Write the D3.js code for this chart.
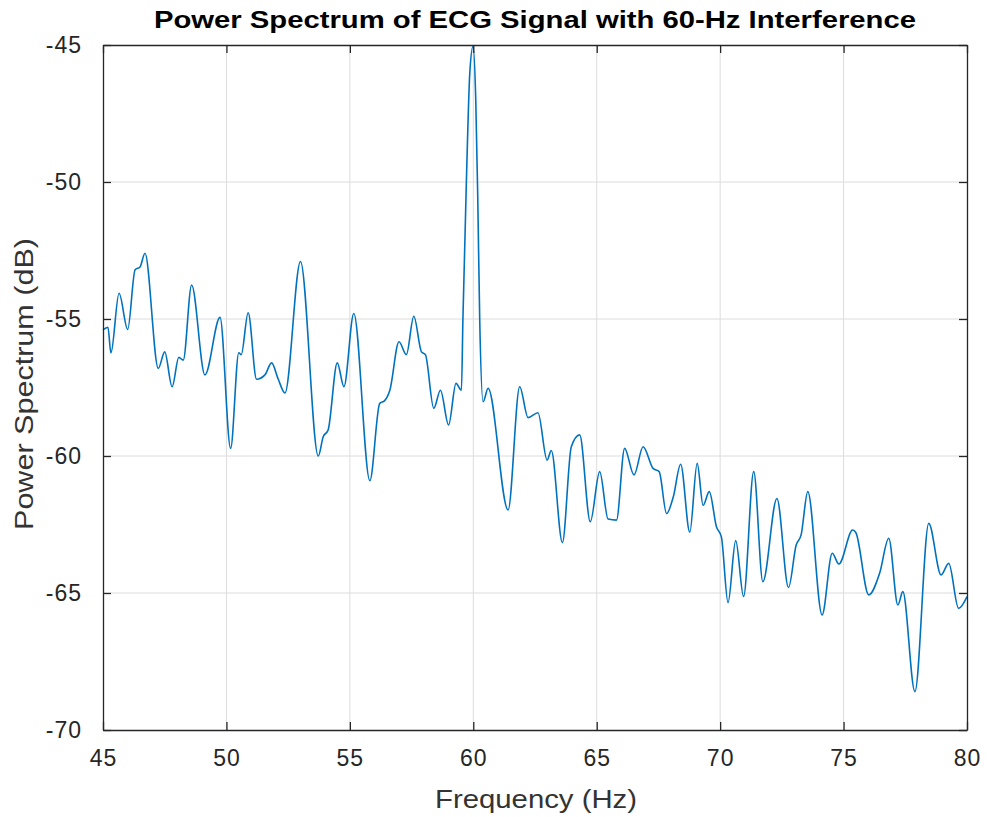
<!DOCTYPE html>
<html>
<head>
<meta charset="utf-8">
<script src="https://cdn.jsdelivr.net/npm/d3@7"></script>
<style>
  body { margin: 0; background: #fff; }
  text { font-family: "Liberation Sans", Arial, sans-serif; fill: #262626; }
</style>
</head>
<body>
<div id="chart"></div>
<script>
// Power spectrum around the 60 Hz mains line

const freq = [
  45.0, 45.2, 45.32, 45.65, 46.0, 46.3, 46.5, 46.7, 47.24, 47.5, 47.8, 48.07, 48.25, 48.59,
  49.13, 49.74, 50.17, 50.5, 50.6, 50.88, 51.22, 51.56, 51.83, 52.1, 52.37, 53.0, 53.72,
  53.92, 54.12, 54.49, 54.76, 55.16, 55.81, 56.21, 56.41, 56.62, 56.99, 57.29, 57.59, 57.9,
  58.06, 58.4, 58.67, 59.0, 59.3, 59.52, 59.58, 59.72, 59.86, 59.99, 60.1, 60.18, 60.26,
  60.4, 60.6, 61.41, 61.88, 62.22, 62.62, 62.99, 63.16, 63.61, 63.97, 64.31, 64.74, 65.12,
  65.46, 65.8, 66.13, 66.51, 66.88, 67.28, 67.53, 67.83, 68.1, 68.4, 68.77, 69.07, 69.31,
  69.56, 69.85, 70.05, 70.32, 70.63, 70.95, 71.36, 71.73, 72.3, 72.77, 73.08, 73.28, 73.55,
  74.13, 74.54, 74.81, 75.37, 75.5, 76.02, 76.46, 76.83, 77.2, 77.4, 77.89, 78.45, 78.95,
  79.26, 79.66, 80.0
];

const power = [
  -55.4, -55.3, -56.24, -54.06, -55.38, -53.2, -53.1, -52.6, -56.8, -56.2, -57.47, -56.4, -56.5, -53.76,
  -57.04, -54.94, -59.72, -56.23, -56.3, -54.77, -57.2, -57.04, -56.6, -57.2, -57.7, -52.9, -60.0,
  -59.3, -59.05, -56.6, -57.47, -54.8, -60.9, -58.08, -57.98, -57.6, -55.83, -56.3, -54.9, -56.2,
  -56.3, -58.26, -57.6, -58.87, -57.35, -57.6, -55.0, -50.0, -46.0, -45.05, -47.0, -50.5, -55.0,
  -58.02, -57.53, -61.97, -57.47, -58.6, -58.42, -60.15, -59.8, -63.16, -59.66, -59.23, -62.4, -60.57,
  -62.3, -62.34, -59.72, -60.69, -59.66, -60.45, -60.57, -62.1, -61.5, -60.3, -62.78, -60.27, -61.8,
  -61.3, -62.58, -62.95, -65.35, -63.09, -65.13, -60.57, -64.59, -61.55, -64.8, -63.25, -62.88, -61.3,
  -65.8, -63.55, -63.94, -62.7, -62.8, -65.07, -64.28, -63.0, -65.44, -64.95, -68.6, -62.46, -64.34,
  -63.92, -65.56, -65.13
];

const xTicks = [45, 50, 55, 60, 65, 70, 75, 80];
const yTicks = [-70, -65, -60, -55, -50, -45];

const width = 987, height = 817;
const margin = { top: 45, right: 20, bottom: 87, left: 103 };
const w = width - margin.left - margin.right;
const h = height - margin.top - margin.bottom;

const svg = d3.select("#chart").append("svg")
  .attr("width", width)
  .attr("height", height);

const plot = svg.append("g")
  .attr("transform", `translate(${margin.left},${margin.top})`);

const x = d3.scaleLinear().domain([45, 80]).range([0, w]);
const y = d3.scaleLinear().domain([-70, -45]).range([h, 0]);

// grid
plot.append("g").selectAll("line")
  .data(xTicks.slice(1, -1))
  .join("line")
  .attr("x1", d => x(d)).attr("x2", d => x(d))
  .attr("y1", 0).attr("y2", h)
  .attr("stroke", "#dcdcdc").attr("stroke-width", 1);

plot.append("g").selectAll("line")
  .data(yTicks.slice(1, -1))
  .join("line")
  .attr("x1", 0).attr("x2", w)
  .attr("y1", d => y(d)).attr("y2", d => y(d))
  .attr("stroke", "#dcdcdc").attr("stroke-width", 1);

// the spectrum
const line = d3.line()
  .x((d, i) => x(freq[i]))
  .y(d => y(d))
  .curve(d3.curveMonotoneX);

plot.append("path")
  .datum(power)
  .attr("fill", "none")
  .attr("stroke", "#0072bd")
  .attr("stroke-width", 1.6)
  .attr("stroke-linejoin", "round")
  .attr("d", line);

// axes, ticks inside on all four sides
const fmt = d => String(d); // plain hyphen minus like the original
const styleAxis = g => {
  g.select(".domain").attr("stroke", "#262626").attr("stroke-width", 1.3).attr("fill", "none");
  g.selectAll(".tick line").attr("stroke", "#262626").attr("stroke-width", 1.3);
  g.selectAll(".tick text")
    .style("font-size", "23px")
    .style("letter-spacing", "1px")
    .attr("fill", "#333");
};

plot.append("g")
  .attr("transform", `translate(0,${h})`)
  .call(d3.axisBottom(x).tickValues(xTicks).tickFormat(fmt).tickSizeInner(-8).tickSizeOuter(0).tickPadding(20))
  .call(styleAxis);

plot.append("g")
  .call(d3.axisTop(x).tickValues(xTicks).tickFormat("").tickSizeInner(-8).tickSizeOuter(0))
  .call(styleAxis);

plot.append("g")
  .call(d3.axisLeft(y).tickValues(yTicks).tickFormat(fmt).tickSizeInner(-8).tickSizeOuter(0).tickPadding(21))
  .call(styleAxis);

plot.append("g")
  .attr("transform", `translate(${w},0)`)
  .call(d3.axisRight(y).tickValues(yTicks).tickFormat("").tickSizeInner(-8).tickSizeOuter(0))
  .call(styleAxis);

// labels
svg.append("text")
  .attr("x", 535)
  .attr("y", 28)
  .attr("text-anchor", "middle")
  .attr("textLength", 762)
  .attr("lengthAdjust", "spacingAndGlyphs")
  .style("font-size", "24px")
  .style("font-weight", "bold")
  .style("fill", "#000")
  .text("Power Spectrum of ECG Signal with 60-Hz Interference");

svg.append("text")
  .attr("x", 536)
  .attr("y", 808)
  .attr("text-anchor", "middle")
  .attr("textLength", 202)
  .attr("lengthAdjust", "spacingAndGlyphs")
  .style("font-size", "25px")
  .style("fill", "#333")
  .text("Frequency (Hz)");

svg.append("text")
  .attr("transform", `translate(33,384) rotate(-90)`)
  .attr("text-anchor", "middle")
  .attr("textLength", 292)
  .attr("lengthAdjust", "spacingAndGlyphs")
  .style("font-size", "25px")
  .style("fill", "#333")
  .text("Power Spectrum (dB)");
</script>
</body>
</html>
